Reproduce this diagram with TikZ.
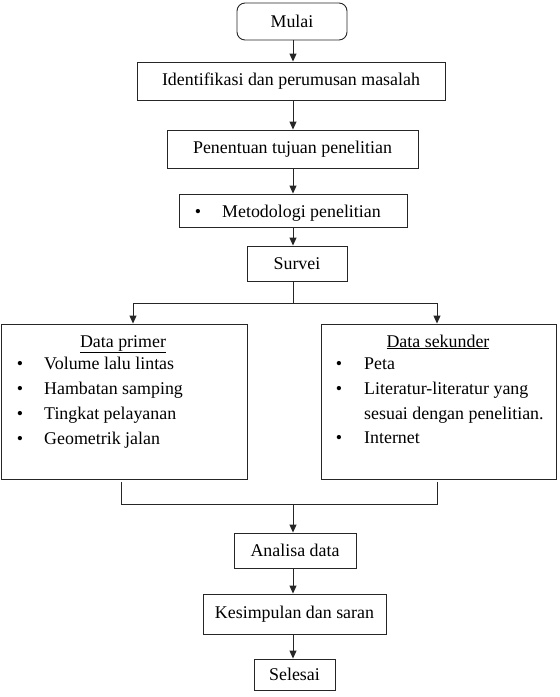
\documentclass[tikz,border=0pt]{standalone}
\usepackage{fontspec}
\setmainfont{Liberation Serif}
\usetikzlibrary{arrows.meta}
\begin{document}
\begin{tikzpicture}[x=1pt,y=-1pt,
  box/.style={draw=black!85,line width=0.9pt,inner sep=0pt,font=\fontsize{17.9}{21}\selectfont},
  txt/.style={inner sep=0pt,font=\fontsize{17.9}{21}\selectfont},
  arr/.style={draw=black!85,line width=0.9pt,-{Triangle[length=8pt,width=7pt]}},
  ln/.style={draw=black!85,line width=0.9pt}]
\useasboundingbox (0,0) rectangle (560,697);
% top chain
\node[box,rounded corners=8pt,minimum width=110pt,minimum height=37pt] (mulai) at (292,21.5) {Mulai};
\node[box,minimum width=308pt,minimum height=38pt] (ident) at (291,81) {Identifikasi dan perumusan masalah};
\node[box,minimum width=251pt,minimum height=38pt] (tujuan) at (292.5,149) {Penentuan tujuan penelitian};
\node[box,minimum width=228pt,minimum height=33pt] (metod) at (293,210.5) {};
\node[txt,anchor=base] (metodb) at (198,217) {\textbullet};
\node[txt,anchor=base west] (metodt) at (222,217) {Metodologi penelitian};
\node[box,minimum width=100pt,minimum height=35pt] (survei) at (297,263.5) {Survei};
% list boxes
\node[box,minimum width=246pt,minimum height=155pt] (primer) at (124,401.5) {};
\node[box,minimum width=235pt,minimum height=155pt] (sekunder) at (438.5,401.5) {};
\node[txt,anchor=base] (primerh) at (123,347) {\underline{Data primer}};
\node[txt,anchor=base] (pb1) at (20,369) {\textbullet};
\node[txt,anchor=base west] (pt1) at (44,369) {Volume lalu lintas};
\node[txt,anchor=base] (pb2) at (20,394) {\textbullet};
\node[txt,anchor=base west] (pt2) at (44,394) {Hambatan samping};
\node[txt,anchor=base] (pb3) at (20,419) {\textbullet};
\node[txt,anchor=base west] (pt3) at (44,419) {Tingkat pelayanan};
\node[txt,anchor=base] (pb4) at (20,444) {\textbullet};
\node[txt,anchor=base west] (pt4) at (44,444) {Geometrik jalan};
\node[txt,anchor=base] (sekh) at (438,347) {\underline{Data sekunder}};
\node[txt,anchor=base] (sb1) at (339,369) {\textbullet};
\node[txt,anchor=base west] (st1) at (364,369) {Peta};
\node[txt,anchor=base] (sb2) at (339,394) {\textbullet};
\node[txt,anchor=base west] (st2) at (364,394) {Literatur-literatur yang};
\node[txt,anchor=base west] (st2b) at (364,419) {sesuai dengan penelitian.};
\node[txt,anchor=base] (sb3) at (339,443) {\textbullet};
\node[txt,anchor=base west] (st3) at (364,443) {Internet};
% bottom chain
\node[box,minimum width=122pt,minimum height=35pt] (analisa) at (295,550.5) {Analisa data};
\node[box,minimum width=183pt,minimum height=40pt] (kesimpulan) at (294.5,614) {Kesimpulan dan saran};
\node[box,minimum width=81pt,minimum height=31pt] (selesai) at (294.5,674.5) {Selesai};
% connectors
\coordinate (ax) at (293,0);
\draw[arr] (mulai.south -| ax) -- (ident.north -| ax);
\draw[arr] (ident.south -| ax) -- (tujuan.north -| ax);
\draw[arr] (tujuan.south -| ax) -- (metod.north -| ax);
\draw[arr] (metod.south -| ax) -- (survei.north -| ax);
\coordinate (splitL) at (133,303);
\coordinate (splitR) at (437,303);
\draw[arr] (survei.south -| ax) -- (ax |- splitL) -| (primer.north -| splitL);
\draw[arr] (ax |- splitL) -| (sekunder.north -| splitR);
\coordinate (joinL) at (121,504);
\coordinate (joinR) at (437,504);
\coordinate (exitL) at (121,482);
\coordinate (exitR) at (437,482);
\draw[ln] (exitL) -- (joinL) -- (joinR) -- (exitR);
\draw[arr] (ax |- joinL) -- (analisa.north -| ax);
\draw[arr] (analisa.south -| ax) -- (kesimpulan.north -| ax);
\draw[arr] (kesimpulan.south -| ax) -- (selesai.north -| ax);
\end{tikzpicture}
\end{document}
